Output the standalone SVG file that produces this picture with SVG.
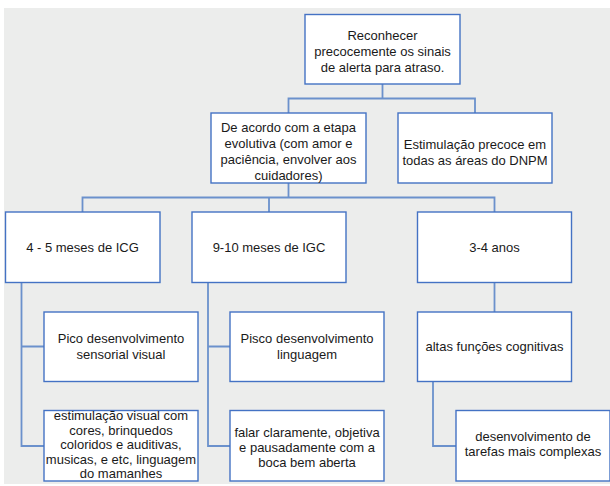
<svg xmlns="http://www.w3.org/2000/svg" width="610" height="486" viewBox="0 0 610 486">
  <style>
    .box { fill: #ffffff; stroke: #4472c4; stroke-width: 1.4; }
    .link { fill: none; stroke: #6b91cc; stroke-width: 1.8; }
    text { font-family: "Liberation Sans", Arial, sans-serif; font-size: 13px; fill: #1a1a1a; text-anchor: middle; }
  </style>
  <rect x="0" y="0" width="610" height="486" fill="#ffffff"/>
  <rect x="4" y="8" width="606" height="476" fill="#ecedec"/>

  <g id="connectors">
    <path class="link" d="M382.5,84 V98.5 H288.5 V113 M382.5,98.5 H475 V113"/>
    <path class="link" d="M288.5,183 V197.5 H82.5 V212 M269,197.5 V212 M288.5,197.5 H494.5 V212"/>
    <path class="link" d="M21.5,282.5 V446 H44 M21.5,346.5 H44"/>
    <path class="link" d="M208,282.5 V446 H230 M208,346.5 H230"/>
    <path class="link" d="M494.5,282.5 V312"/>
    <path class="link" d="M433,381.5 V446 H456"/>
  </g>

  <g id="n-reconhecer">
    <rect class="box" x="305" y="14.5" width="155" height="69.5"/>
    <text x="382.5" y="40">Reconhecer</text>
    <text x="382.5" y="56">precocemente os sinais</text>
    <text x="382.5" y="72">de alerta para atraso.</text>
  </g>

  <g id="n-etapa">
    <rect class="box" x="211" y="113" width="155" height="70"/>
    <text x="288.5" y="132">De acordo com a etapa</text>
    <text x="288.5" y="148">evolutiva (com amor e</text>
    <text x="288.5" y="164">paciência, envolver aos</text>
    <text x="288.5" y="180">cuidadores)</text>
  </g>

  <g id="n-estimulacao-precoce">
    <rect class="box" x="398" y="113" width="154" height="70"/>
    <text x="475" y="149">Estimulação precoce em</text>
    <text x="475" y="165">todas as áreas do DNPM</text>
  </g>

  <g id="n-icg">
    <rect class="box" x="5.5" y="212" width="154.5" height="70.5"/>
    <text x="82.5" y="252">4 - 5 meses de ICG</text>
  </g>

  <g id="n-igc">
    <rect class="box" x="192" y="212" width="154" height="70.5"/>
    <text x="269" y="252">9-10 meses de IGC</text>
  </g>

  <g id="n-anos">
    <rect class="box" x="417.5" y="212" width="154" height="70.5"/>
    <text x="494.5" y="252">3-4 anos</text>
  </g>

  <g id="n-pico-visual">
    <rect class="box" x="44" y="312" width="154" height="69.5"/>
    <text x="121" y="343">Pico desenvolvimento</text>
    <text x="121" y="359">sensorial visual</text>
  </g>

  <g id="n-pico-linguagem">
    <rect class="box" x="230" y="312" width="154" height="69.5"/>
    <text x="307" y="343">Pisco desenvolvimento</text>
    <text x="307" y="359">linguagem</text>
  </g>

  <g id="n-funcoes">
    <rect class="box" x="417.5" y="312" width="154" height="69.5"/>
    <text x="494.5" y="351">altas funções cognitivas</text>
  </g>

  <g id="n-estimulacao-visual">
    <rect class="box" x="44" y="410.5" width="154" height="70.5"/>
    <text x="121" y="420">estimulação visual com</text>
    <text x="121" y="434.5">cores, brinquedos</text>
    <text x="121" y="449">coloridos e auditivas,</text>
    <text x="121" y="463.5">musicas, e etc, linguagem</text>
    <text x="121" y="478">do mamanhes</text>
  </g>

  <g id="n-falar">
    <rect class="box" x="230" y="410.5" width="154" height="70.5"/>
    <text x="307" y="437">falar claramente, objetiva</text>
    <text x="307" y="452">e pausadamente com a</text>
    <text x="307" y="467">boca bem aberta</text>
  </g>

  <g id="n-tarefas">
    <rect class="box" x="456" y="410.5" width="154" height="70.5"/>
    <text x="533" y="441">desenvolvimento de</text>
    <text x="533" y="456">tarefas mais complexas</text>
  </g>
</svg>
